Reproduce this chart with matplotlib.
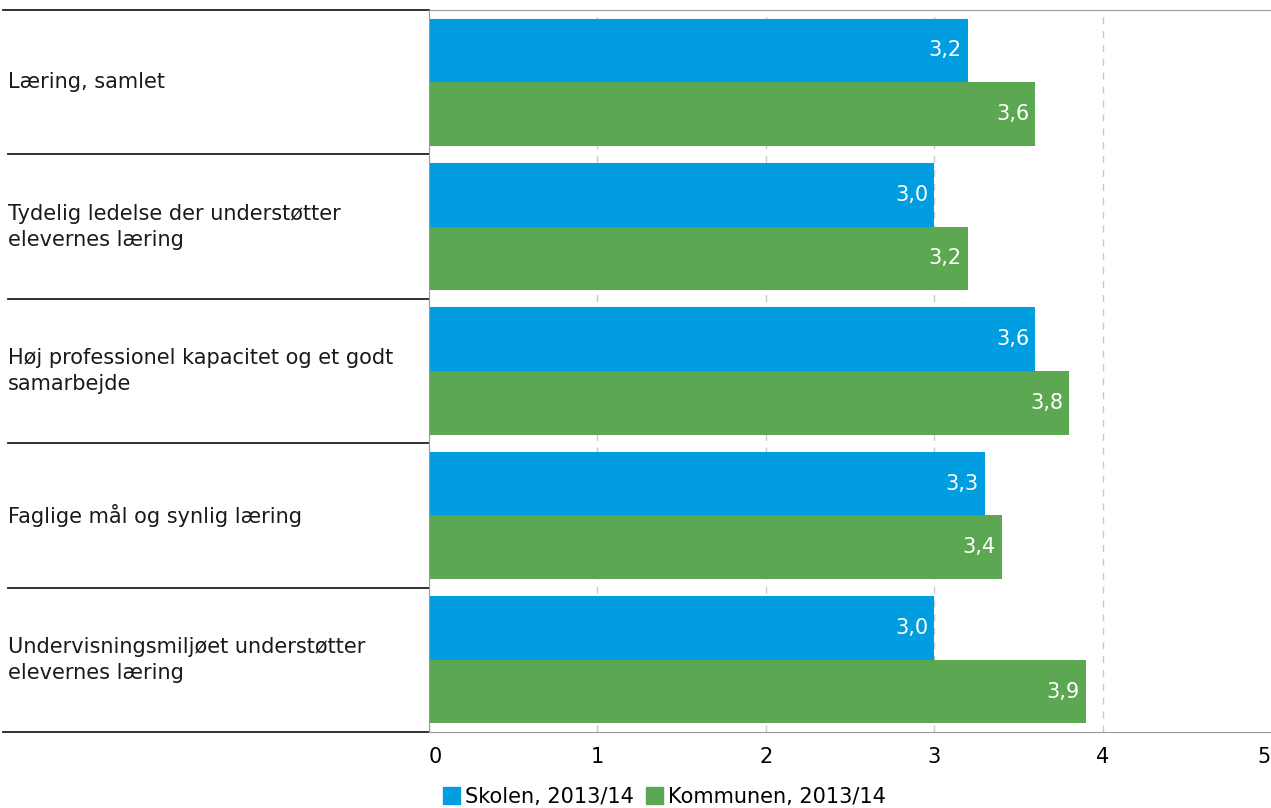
import matplotlib.pyplot as plt
from matplotlib.patches import Patch
import numpy as np

categories = ['Læring, samlet',
              'Tydelig ledelse der understøtter\nelevernes læring',
              'Høj professionel kapacitet og et godt\nsamarbejde',
              'Faglige mål og synlig læring',
              'Undervisningsmiljøet understøtter\nelevernes læring']
skolen = [3.2, 3.0, 3.6, 3.3, 3.0]
kommunen = [3.6, 3.2, 3.8, 3.4, 3.9]
series_names = ['Skolen, 2013/14', 'Kommunen, 2013/14']
blue = '#009ee0'
green = '#5ca852'

plt.rcParams['font.family'] = ['DejaVu Sans']
fs = 15
fig = plt.figure(figsize=(12.71, 8.08), dpi=100)
ax = fig.add_axes([429 / 1271, 1 - 732 / 808, 1 - 429 / 1271, 722 / 808])

y = np.arange(len(categories))
h = 0.44
ax.barh(y - h / 2, skolen, height=h, color=blue, zorder=2)
ax.barh(y + h / 2, kommunen, height=h, color=green, zorder=2)

for i in range(len(categories)):
    for val, off in ((skolen[i], -h / 2), (kommunen[i], h / 2)):
        ax.text(val - 0.035, i + off, f'{val:.1f}'.replace('.', ','), color='white',
                ha='right', va='center', fontsize=fs, zorder=3)

ax.set_xlim(0, 5)
ax.set_ylim(len(categories) - 0.5, -0.5)
ax.set_yticks([])
ax.set_xticks(range(6))
ax.set_xticklabels([str(v) for v in range(6)], fontsize=fs)
ax.tick_params(axis='x', length=0, pad=11)
labels = ax.get_xticklabels()
labels[0].set_ha('left')
labels[-1].set_ha('right')
ax.grid(axis='x', color='#c8c8c8', linestyle=(0, (5, 5)), linewidth=1, zorder=1)
ax.xaxis.get_gridlines()[-1].set_visible(False)
for s in ['top', 'bottom', 'left']:
    ax.spines[s].set_color('#999999')
ax.spines['right'].set_visible(False)

# category labels and separators in the left area
for i, cat in enumerate(categories):
    ax.text(-0.5, i, cat, transform=ax.get_yaxis_transform(), ha='left', va='center',
            fontsize=fs, color='#1a1a1a', linespacing=1.38)
for b in np.arange(-0.5, len(categories), 1.0):
    x0 = -0.506 if b in (-0.5, len(categories) - 0.5) else -0.5
    ax.plot([x0, 0], [b, b], transform=ax.get_yaxis_transform(), color='#222222',
            linewidth=1.3, clip_on=False)

handles = [Patch(color=blue), Patch(color=green)]
fig.legend(handles, series_names, loc='center', bbox_to_anchor=(0.523, 0.014), ncol=2,
           frameon=False, fontsize=fs, handlelength=0.8, handleheight=0.9,
           handletextpad=0.25, columnspacing=0.6, borderpad=0)

fig.savefig('out.png', dpi=100)
